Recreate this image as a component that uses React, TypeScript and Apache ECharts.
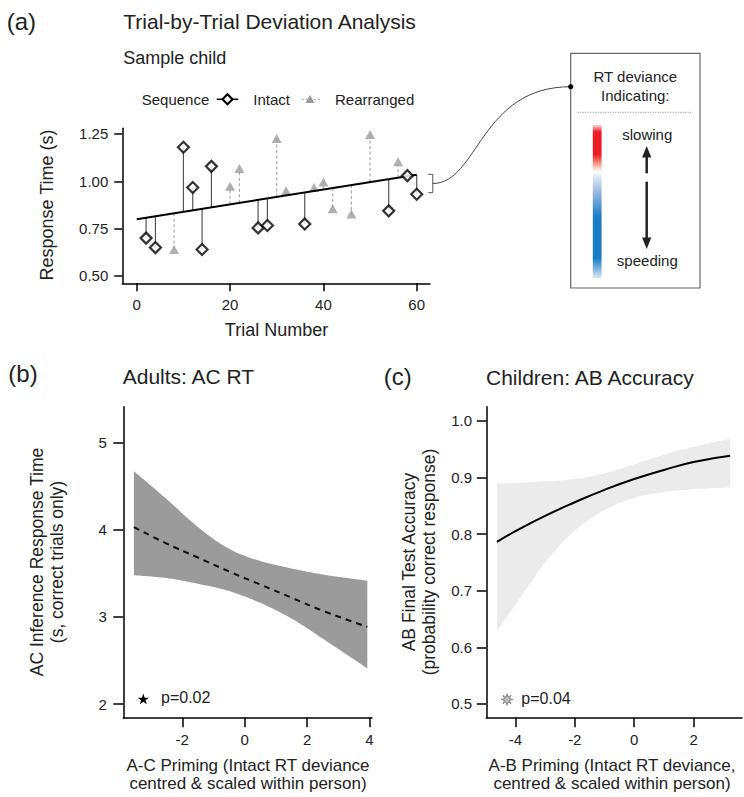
import React, { useEffect, useRef } from 'react';
import * as echarts from 'echarts';

const FONT = '"Liberation Sans", Arial, Helvetica, sans-serif';
const INK = '#222';

// ---------- Panel (a): trial-by-trial data ----------
const intactTrials = [2, 4, 10, 12, 14, 16, 26, 28, 36, 54, 58, 60];
const intactRT = [0.70, 0.65, 1.18, 0.967, 0.64, 1.079, 0.754, 0.767, 0.775, 0.844, 1.03, 0.932];
const rearrTrials = [8, 20, 22, 30, 32, 38, 40, 42, 46, 50, 56];
const rearrRT = [0.64, 0.974, 1.068, 1.226, 0.95, 0.967, 0.996, 0.855, 0.828, 1.247, 1.103];
const trendTrials = [0, 60];
const trendRT = [0.80, 1.035];
const aXTicks = [0, 20, 40, 60];
const aYTicks = [0.5, 0.75, 1.0, 1.25];

// ---------- Panel (b): adults AC RT ----------
const bX = [-3.55, -2.5, -1.5, -0.5, 0.5, 1.5, 2.5, 3.93];
const bFit = [4.03, 3.84, 3.68, 3.52, 3.37, 3.22, 3.07, 2.885];
const bUpper = [4.67, 4.35, 4.03, 3.78, 3.64, 3.555, 3.486, 3.413];
const bLower = [3.478, 3.444, 3.379, 3.295, 3.16, 2.98, 2.75, 2.408];
const bXTicks = [-2, 0, 2, 4];
const bYTicks = [2, 3, 4, 5];

// ---------- Panel (c): children AB accuracy ----------
const cX = [-4.62, -4, -3, -2, -1, 0, 1, 2, 3.23];
const cFit = [0.786, 0.805, 0.832, 0.856, 0.878, 0.897, 0.913, 0.927, 0.938];
const cUpper = [0.889, 0.890, 0.893, 0.897, 0.907, 0.923, 0.940, 0.954, 0.968];
const cLower = [0.630, 0.675, 0.750, 0.806, 0.842, 0.864, 0.874, 0.879, 0.882];
const cXTicks = [-4, -2, 0, 2];
const cYTicks = [0.5, 0.6, 0.7, 0.8, 0.9, 1.0];

function fitAt(x: number): number {
  const [x0, x1] = trendTrials;
  const [y0, y1] = trendRT;
  return y0 + ((y1 - y0) * (x - x0)) / (x1 - x0);
}

function starPoints(cx: number, cy: number, ro: number, ri: number, n: number): number[][] {
  const pts: number[][] = [];
  for (let i = 0; i < n * 2; i++) {
    const r = i % 2 === 0 ? ro : ri;
    const a = -Math.PI / 2 + (i * Math.PI) / n;
    pts.push([cx + r * Math.cos(a), cy + r * Math.sin(a)]);
  }
  return pts;
}

// Catmull-Rom smoothing of pixel points (geometry only)
function smoothPx(pts: number[][], steps = 14): number[][] {
  const out: number[][] = [];
  const n = pts.length;
  for (let i = 0; i < n - 1; i++) {
    const p0 = pts[Math.max(0, i - 1)];
    const p1 = pts[i];
    const p2 = pts[i + 1];
    const p3 = pts[Math.min(n - 1, i + 2)];
    for (let s = 0; s < steps; s++) {
      const t = s / steps;
      const t2 = t * t;
      const t3 = t2 * t;
      const f = (a: number, b: number, c: number, d: number) =>
        0.5 * (2 * b + (-a + c) * t + (2 * a - 5 * b + 4 * c - d) * t2 + (-a + 3 * b - 3 * c + d) * t3);
      out.push([f(p0[0], p1[0], p2[0], p3[0]), f(p0[1], p1[1], p2[1], p3[1])]);
    }
  }
  out.push(pts[n - 1]);
  return out;
}

function makeAxis(gridIndex: number, min: number, max: number, ticks: number[], fmt: (v: number) => string, tickLen: number, margin: number) {
  return {
    type: 'value',
    gridIndex,
    min,
    max,
    z: 10,
    axisLine: { show: true, onZero: false, lineStyle: { color: '#000', width: 1.5 } },
    axisTick: { show: true, length: tickLen, customValues: ticks, lineStyle: { color: '#000', width: 1.5 } },
    axisLabel: {
      show: true,
      customValues: ticks,
      formatter: (v: number) => fmt(v),
      margin,
      fontSize: 15,
      color: INK,
      fontFamily: FONT,
    },
    splitLine: { show: false },
  };
}

function txt(text: string, x: number, y: number, size: number, align = 'left', rotation = 0, fill = INK) {
  return {
    type: 'text',
    x,
    y,
    z: 20,
    rotation,
    style: { text, fontSize: size, fontFamily: FONT, fill, align, verticalAlign: 'middle' },
  };
}

export default function App() {
  const ref = useRef<HTMLDivElement>(null);

  useEffect(() => {
    document.body.style.margin = '0';
    if (!ref.current) return;
    const chart = echarts.init(ref.current, null, { renderer: 'svg' });

    const stemRender = (color: string, dash: number[] | null) => (params: any, api: any) => {
      const x = api.value(0);
      const y = api.value(1);
      const p1 = api.coord([x, fitAt(x)]);
      const p2 = api.coord([x, y]);
      return {
        type: 'line',
        shape: { x1: p1[0], y1: p1[1], x2: p2[0], y2: p2[1] },
        style: { stroke: color, lineWidth: 1.2, lineDash: dash || undefined },
      };
    };

    const bandRender = (xs: number[], lo: number[], hi: number[], color: string) => (params: any, api: any) => {
      if (params.dataIndex !== 0) return null;
      const up = xs.map((x, i) => api.coord([x, hi[i]]));
      const dn = xs.map((x, i) => api.coord([x, lo[i]]));
      const points = smoothPx(up).concat(smoothPx(dn).reverse());
      return { type: 'polygon', shape: { points }, style: { fill: color } };
    };

    const colorbar = new echarts.graphic.LinearGradient(0, 0, 0, 1, [
      { offset: 0, color: '#fbd9d4' },
      { offset: 0.045, color: '#ee1c25' },
      { offset: 0.19, color: '#ee1c25' },
      { offset: 0.23, color: '#f26a5c' },
      { offset: 0.29, color: '#fde6e2' },
      { offset: 0.305, color: '#ffffff' },
      { offset: 0.325, color: '#e9eff8' },
      { offset: 0.45, color: '#8fb3de' },
      { offset: 0.6, color: '#1a7dc4' },
      { offset: 0.87, color: '#1a7dc4' },
      { offset: 1, color: '#dde8f6' },
    ]);

    const graphic: any[] = [
      // Panel (a) headings
      txt('(a)', 6.7, 21.7, 24),
      txt('Trial-by-Trial Deviation Analysis', 123.3, 21.7, 21),
      txt('Sample child', 123.3, 58.3, 18),
      // legend
      txt('Sequence', 141.7, 99.3, 15),
      { type: 'line', z: 20, shape: { x1: 216.7, y1: 99.3, x2: 238.3, y2: 99.3 }, style: { stroke: '#000', lineWidth: 1.5 } },
      { type: 'polygon', z: 21, shape: { points: [[227.5, 94.3], [232.5, 99.3], [227.5, 104.3], [222.5, 99.3]] }, style: { fill: '#fff', stroke: '#000', lineWidth: 2.2 } },
      txt('Intact', 253.3, 99.3, 15),
      { type: 'line', z: 20, shape: { x1: 301.7, y1: 99.3, x2: 320, y2: 99.3 }, style: { stroke: '#aaa', lineWidth: 1.2, lineDash: [2, 2] } },
      { type: 'polygon', z: 21, shape: { points: [[310, 95], [314.5, 103], [305.5, 103]] }, style: { fill: '#999' } },
      txt('Rearranged', 335, 99.3, 15),
      // axis titles (a)
      txt('Response Time (s)', 46.7, 205, 18, 'center', Math.PI / 2),
      txt('Trial Number', 276.5, 330, 18, 'center'),
      // bracket + connector
      { type: 'polyline', z: 20, shape: { points: [[428.3, 174.3], [432.8, 174.3], [432.8, 192.7], [428.3, 192.7]] }, style: { stroke: '#555', lineWidth: 1, fill: 'none' } },
      { type: 'bezierCurve', z: 20, shape: { x1: 432.8, y1: 183.5, cpx1: 478, cpy1: 183.5, cpx2: 480, cpy2: 86.7, x2: 570.7, y2: 86.7 }, style: { stroke: '#444', lineWidth: 1, fill: 'none' } },
      // legend box
      { type: 'rect', z: 19, shape: { x: 570.7, y: 53.3, width: 129.3, height: 234.7 }, style: { fill: '#fff', stroke: '#666', lineWidth: 1.2 } },
      { type: 'circle', z: 22, shape: { cx: 570.7, cy: 86.7, r: 2.6 }, style: { fill: '#000' } },
      txt('RT deviance', 635.3, 76.7, 15, 'center'),
      txt('Indicating:', 635.3, 95.7, 15, 'center'),
      { type: 'line', z: 20, shape: { x1: 577.7, y1: 112.3, x2: 692.7, y2: 112.3 }, style: { stroke: '#888', lineWidth: 1, lineDash: [1, 1.5] } },
      { type: 'rect', z: 20, shape: { x: 592.8, y: 125, width: 8.8, height: 153.3 }, style: { fill: colorbar } },
      txt('slowing', 647.3, 134, 15, 'center'),
      txt('speeding', 647.3, 260.7, 15, 'center'),
      { type: 'line', z: 20, shape: { x1: 646.7, y1: 173.3, x2: 646.7, y2: 154 }, style: { stroke: '#222', lineWidth: 2.5 } },
      { type: 'polygon', z: 20, shape: { points: [[646.7, 146], [651.3, 157.5], [642.1, 157.5]] }, style: { fill: '#222' } },
      { type: 'line', z: 20, shape: { x1: 646.7, y1: 181.7, x2: 646.7, y2: 241 }, style: { stroke: '#222', lineWidth: 2.5 } },
      { type: 'polygon', z: 20, shape: { points: [[646.7, 249], [651.3, 237.5], [642.1, 237.5]] }, style: { fill: '#222' } },
      // Panel (b)
      txt('(b)', 8.3, 373, 24),
      txt('Adults: AC RT', 122.7, 376.7, 21),
      txt('AC Inference Response Time', 36.7, 562, 17.5, 'center', Math.PI / 2),
      txt('(s, correct trials only)', 57.3, 562, 17.5, 'center', Math.PI / 2),
      txt('A-C Priming (Intact RT deviance', 248, 765.7, 17, 'center'),
      txt('centred & scaled within person)', 248, 783.3, 17, 'center'),
      { type: 'polygon', z: 20, shape: { points: starPoints(143.3, 699.5, 6, 2.3, 5) }, style: { fill: '#000' } },
      txt('p=0.02', 161, 697.3, 16),
      // Panel (c)
      txt('(c)', 383.7, 376, 24),
      txt('Children: AB Accuracy', 486, 377.3, 21),
      txt('AB Final Test Accuracy', 408.7, 562, 17.5, 'center', Math.PI / 2),
      txt('(probability correct response)', 429.3, 562, 17.5, 'center', Math.PI / 2),
      txt('A-B Priming (Intact RT deviance,', 612, 765.7, 17, 'center'),
      txt('centred & scaled within person)', 612, 783.3, 17, 'center'),
      { type: 'polygon', z: 20, shape: { points: starPoints(507, 699.5, 5.8, 2.6, 8) }, style: { fill: '#bdbdbd', stroke: '#777', lineWidth: 0.8 } },
      txt('p=0.04', 521.3, 698.3, 16),
    ];

    const option: any = {
      animation: false,
      textStyle: { fontFamily: FONT },
      grid: [
        { left: 122.3, top: 128.3, width: 307.7, height: 155, outerBoundsMode: 'none' },
        { left: 123.3, top: 406.7, width: 248.7, height: 311, outerBoundsMode: 'none' },
        { left: 486.3, top: 406.7, width: 255.7, height: 311, outerBoundsMode: 'none' },
      ],
      xAxis: [
        makeAxis(0, -3.1, 62.85, aXTicks, (v) => String(v), 8, 13.5),
        makeAxis(1, -3.89, 4.08, bXTicks, (v) => String(v), 9.5, 14.5),
        makeAxis(2, -4.98, 3.63, cXTicks, (v) => String(v), 9.5, 14.5),
      ],
      yAxis: [
        makeAxis(0, 0.4614, 1.28, aYTicks, (v) => v.toFixed(2), 8, 14),
        makeAxis(1, 1.843, 5.41, bYTicks, (v) => String(v), 10, 16.5),
        makeAxis(2, 0.4758, 1.0247, cYTicks, (v) => v.toFixed(1), 9.5, 14.3),
      ],
      graphic,
      series: [
        {
          name: 'Rearranged stems',
          type: 'custom',
          xAxisIndex: 0,
          yAxisIndex: 0,
          renderItem: stemRender('#aaaaaa', [3, 2.5]),
          encode: { x: 0, y: 1 },
          data: rearrTrials.map((t, i) => [t, rearrRT[i]]),
          silent: true,
          z: 1,
        },
        {
          name: 'Intact stems',
          type: 'custom',
          xAxisIndex: 0,
          yAxisIndex: 0,
          renderItem: stemRender('#555555', null),
          encode: { x: 0, y: 1 },
          data: intactTrials.map((t, i) => [t, intactRT[i]]),
          silent: true,
          z: 1,
        },
        {
          name: 'Rearranged',
          type: 'scatter',
          xAxisIndex: 0,
          yAxisIndex: 0,
          symbol: 'triangle',
          symbolSize: [10, 9],
          itemStyle: { color: '#9c9c9c' },
          data: rearrTrials.map((t, i) => [t, rearrRT[i]]),
          z: 2,
        },
        {
          name: 'Trend',
          type: 'line',
          xAxisIndex: 0,
          yAxisIndex: 0,
          symbol: 'none',
          lineStyle: { color: '#000', width: 2 },
          data: trendTrials.map((t, i) => [t, trendRT[i]]),
          z: 3,
        },
        {
          name: 'Intact',
          type: 'scatter',
          xAxisIndex: 0,
          yAxisIndex: 0,
          symbol: 'diamond',
          symbolSize: 11,
          itemStyle: { color: '#fff', borderColor: '#000', borderWidth: 2.2 },
          data: intactTrials.map((t, i) => [t, intactRT[i]]),
          z: 4,
        },
        // Panel (b)
        {
          name: 'b 95% band',
          type: 'custom',
          xAxisIndex: 1,
          yAxisIndex: 1,
          renderItem: bandRender(bX, bLower, bUpper, '#9b9b9b'),
          encode: { x: 0, y: [1, 2] },
          data: bX.map((x, i) => [x, bLower[i], bUpper[i]]),
          silent: true,
          z: 1,
        },
        {
          name: 'b fit',
          type: 'line',
          xAxisIndex: 1,
          yAxisIndex: 1,
          smooth: true,
          symbol: 'none',
          lineStyle: { color: '#111', width: 2, type: [6, 5] },
          data: bX.map((x, i) => [x, bFit[i]]),
          z: 3,
        },
        // Panel (c)
        {
          name: 'c 95% band',
          type: 'custom',
          xAxisIndex: 2,
          yAxisIndex: 2,
          renderItem: bandRender(cX, cLower, cUpper, '#ebebeb'),
          encode: { x: 0, y: [1, 2] },
          data: cX.map((x, i) => [x, cLower[i], cUpper[i]]),
          silent: true,
          z: 1,
        },
        {
          name: 'c fit',
          type: 'line',
          xAxisIndex: 2,
          yAxisIndex: 2,
          smooth: true,
          symbol: 'none',
          lineStyle: { color: '#000', width: 2 },
          data: cX.map((x, i) => [x, cFit[i]]),
          z: 3,
        },
      ],
    };

    chart.setOption(option);
    return () => chart.dispose();
  }, []);

  return <div ref={ref} style={{ width: 744, height: 797 }} />;
}
